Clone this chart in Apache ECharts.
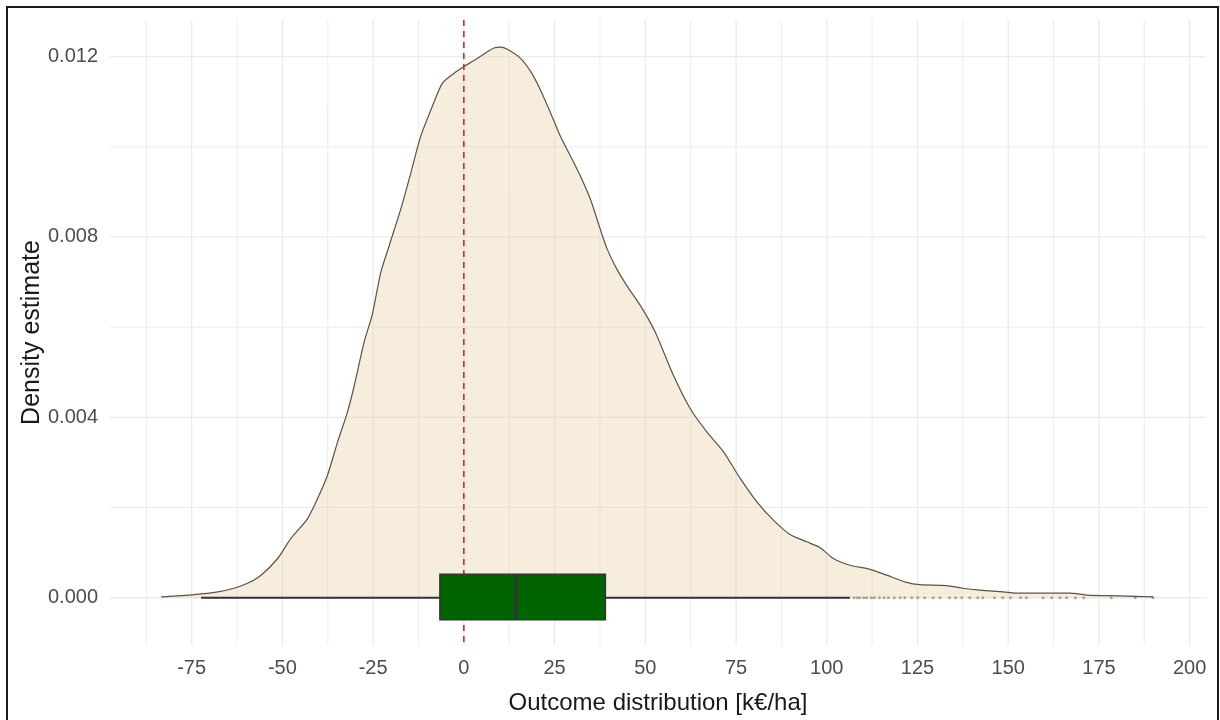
<!DOCTYPE html>
<html>
<head>
<meta charset="utf-8">
<script src="https://cdn.jsdelivr.net/npm/echarts@6/dist/echarts.min.js"></script>
<style>
  html, body { margin: 0; padding: 0; background: #fff; }
  #chart { width: 1220px; height: 720px; }
</style>
</head>
<body>
<div id="chart"></div>
<script>
// axis breaks
const xTicks = [-75, -50, -25, 0, 25, 50, 75, 100, 125, 150, 175, 200]
const xMinor = [-87.5, -62.5, -37.5, -12.5, 12.5, 37.5, 62.5, 87.5, 112.5, 137.5, 162.5, 187.5]
const yTicks = [0, 0.004, 0.008, 0.012]
const yMinor = [0.002, 0.006, 0.010]

// density estimate
const densX = [-83.4, -74.3, -67.8, -63.3, -59.6, -55.9, -51.3, -47.7, -43.1, -40.3,
  -37.6, -34.8, -32.1, -30.2, -27.5, -25.2, -22.9, -20.6, -17.4, -14.6,
  -11.9, -8.7, -5.9, -2.7, 0.0, 2.8, 6.0, 8.3, 10.1, 12.0,
  15.6, 18.4, 21.1, 23.9, 26.6, 29.4, 32.1, 34.9, 37.6, 39.5,
  42.2, 45.0, 48.7, 51.4, 53.2, 57.8, 62.4, 67.0, 71.6, 76.2,
  80.8, 85.3, 89.9, 94.5, 98.2, 101.8, 106.4, 111.9, 116.5, 122.0,
  125.6, 133.0, 137.6, 142.2, 148.6, 153.2, 167.0, 171.6, 180.7, 189.9]
const densY = [0.00002, 0.00007, 0.00013, 0.00021, 0.00032, 0.00050, 0.00087, 0.00131, 0.00175, 0.00220,
  0.00271, 0.00345, 0.00411, 0.00470, 0.00566, 0.00629, 0.00721, 0.00780, 0.00861, 0.00942,
  0.01023, 0.01089, 0.01141, 0.01163, 0.01178, 0.01191, 0.01208, 0.01219, 0.01221, 0.01216,
  0.01196, 0.01167, 0.01126, 0.01075, 0.01023, 0.00979, 0.00935, 0.00883, 0.00817, 0.00773,
  0.00728, 0.00691, 0.00647, 0.00610, 0.00581, 0.00492, 0.00419, 0.00367, 0.00323, 0.00264,
  0.00212, 0.00172, 0.00140, 0.00124, 0.00111, 0.00087, 0.00072, 0.00063, 0.00050, 0.00034,
  0.00029, 0.00027, 0.00021, 0.00017, 0.00013, 0.00010, 0.00010, 0.00006, 0.00004, 0.00002]

// boxplot: lower whisker, q1, median, q3, upper whisker
const boxStats = [-72.4, -6.6, 14.4, 39.0, 106.4]
const outliers = [107.5, 108.4, 109.1, 110.2, 111.0, 112.3, 113.1, 114.5, 115.8, 117.0,
  118.6, 120.2, 121.5, 123.4, 125.1, 127.0, 129.3, 131.2, 133.8, 135.5,
  137.2, 139.4, 141.6, 143.0, 146.2, 148.5, 150.6, 153.4, 155.0, 159.6,
  162.0, 164.3, 166.1, 168.5, 170.8, 178.4, 185.0, 189.9]

const refLine = [0]

const BOX_TOP = 0.00052
const BOX_BOTTOM = -0.00049
const gridColor = '#ebebeb'

// grid lines as [x, y, isMajor]
const vGrid = [...xTicks.map(v => [v, 0, 1]), ...xMinor.map(v => [v, 0, 0])]
const hGrid = [...yTicks.map(v => [0, v, 1]), ...yMinor.map(v => [0, v, 0])]

function vLine(stroke, width, dash) {
  return (params, api) => {
    const cs = params.coordSys
    const x = api.coord([api.value(0), 0])[0]
    return {
      type: 'line',
      shape: { x1: x, y1: cs.y, x2: x, y2: cs.y + cs.height },
      style: { stroke, lineWidth: width || (api.value(2) ? 1.3 : 0.9), lineDash: dash || null }
    }
  }
}

function hLine(params, api) {
  const cs = params.coordSys
  const y = api.coord([0, api.value(1)])[1]
  return {
    type: 'line',
    shape: { x1: cs.x, y1: y, x2: cs.x + cs.width, y2: y },
    style: { stroke: gridColor, lineWidth: api.value(2) ? 1.3 : 0.9 }
  }
}

const chart = echarts.init(document.getElementById('chart'))

chart.setOption({
  animation: false,
  backgroundColor: '#fff',
  textStyle: { fontFamily: '"Liberation Sans", Arial, sans-serif' },
  grid: { left: 110, right: 14, top: 20, bottom: 73 },
  xAxis: {
    type: 'value',
    min: -97.5,
    max: 204.5,
    name: 'Outcome distribution [k€/ha]',
    nameLocation: 'middle',
    nameGap: 46,
    nameTextStyle: { fontSize: 24, color: '#1a1a1a' },
    axisLine: { show: false },
    axisTick: { show: false },
    splitLine: { show: false },
    axisLabel: { customValues: xTicks, fontSize: 20, color: '#4d4d4d', margin: 13 }
  },
  yAxis: {
    type: 'value',
    min: -0.001048,
    max: 0.01281,
    name: 'Density estimate',
    nameLocation: 'middle',
    nameGap: 65,
    nameMoveOverlap: false,
    nameTextStyle: { fontSize: 25, color: '#1a1a1a' },
    axisLine: { show: false },
    axisTick: { show: false },
    splitLine: { show: false },
    axisLabel: {
      customValues: yTicks,
      fontSize: 20,
      color: '#4d4d4d',
      margin: 12,
      formatter: v => v.toFixed(3)
    }
  },
  graphic: [{
    type: 'rect',
    shape: { x: 7, y: 7, width: 1211, height: 720 },
    style: { fill: 'none', stroke: '#1a1a1a', lineWidth: 2 },
    z: 100
  }],
  series: [
    { type: 'custom', z: 1, silent: true, clip: false, data: vGrid, renderItem: vLine(gridColor) },
    { type: 'custom', z: 1, silent: true, clip: false, data: hGrid, renderItem: hLine },
    {
      type: 'line',
      data: densX.map((x, i) => [x, densY[i]]),
      z: 2,
      smooth: 0.25,
      showSymbol: false,
      silent: true,
      lineStyle: { color: '#5b5345', width: 1.2 },
      areaStyle: { color: 'rgba(235, 208, 165, 0.55)' }
    },
    {
      // dashed reference line at zero
      type: 'custom',
      z: 3,
      silent: true,
      data: refLine.map(v => [v, 0, 1]),
      renderItem: vLine('#d22a2a', 1.6, [6, 5])
    },
    {
      type: 'scatter',
      data: outliers.map(x => [x, 0]),
      z: 4,
      symbolSize: 3,
      silent: true,
      itemStyle: { color: 'rgba(40, 40, 40, 0.45)' }
    },
    {
      type: 'custom',
      z: 5,
      silent: true,
      data: [boxStats],
      renderItem(params, api) {
        const lo = api.value(0), q1 = api.value(1), med = api.value(2), q3 = api.value(3), hi = api.value(4)
        const pLo = api.coord([lo, 0])
        const pHi = api.coord([hi, 0])
        const tl = api.coord([q1, BOX_TOP])
        const br = api.coord([q3, BOX_BOTTOM])
        const mTop = api.coord([med, BOX_TOP])
        const mBot = api.coord([med, BOX_BOTTOM])
        const stroke = '#333333'
        return {
          type: 'group',
          children: [
            { type: 'line', shape: { x1: pLo[0], y1: pLo[1], x2: tl[0], y2: pLo[1] }, style: { stroke, lineWidth: 2 } },
            { type: 'line', shape: { x1: br[0], y1: pHi[1], x2: pHi[0], y2: pHi[1] }, style: { stroke, lineWidth: 2 } },
            { type: 'rect', shape: { x: tl[0], y: tl[1], width: br[0] - tl[0], height: br[1] - tl[1] }, style: { fill: '#006400', stroke, lineWidth: 1.5 } },
            { type: 'line', shape: { x1: mTop[0], y1: mTop[1], x2: mBot[0], y2: mBot[1] }, style: { stroke, lineWidth: 3 } }
          ]
        }
      }
    }
  ]
})
</script>
</body>
</html>
